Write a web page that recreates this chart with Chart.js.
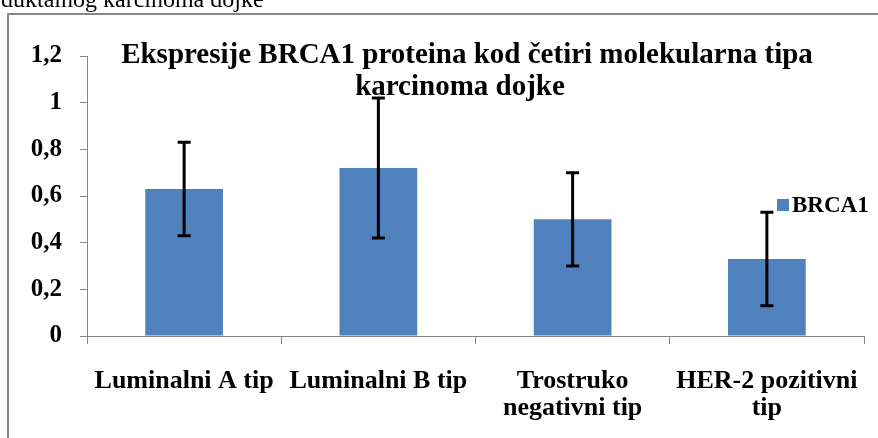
<!DOCTYPE html>
<html>
<head>
<meta charset="utf-8">
<script src="https://cdn.jsdelivr.net/npm/chart.js@4"></script>
<style>
  html, body { margin: 0; padding: 0; background: #fff; }
  #wrap { position: relative; width: 878px; height: 438px; overflow: hidden; }
  canvas { display: block; }
</style>
</head>
<body>
<div id="wrap"><canvas id="c" width="878" height="438"></canvas></div>
<script>
// ---- data ----
const categories = [["Luminalni A tip"], ["Luminalni B tip"], ["Trostruko", "negativni tip"], ["HER-2 pozitivni", "tip"]];
const seriesName = "BRCA1";
const values = [0.63, 0.72, 0.50, 0.33];
const errors = [0.20, 0.30, 0.20, 0.20];
const yTickLabels = ["0", "0,2", "0,4", "0,6", "0,8", "1", "1,2"];
const titleLines = ["Ekspresije BRCA1 proteina kod četiri molekularna tipa", "karcinoma dojke"];
const pageText = "duktalnog karcinoma dojke";

const serif = "'Liberation Serif', 'Times New Roman', serif";
const barColor = "#4F81BD";
const axisColor = "#868686";

const decorPlugin = {
  id: "decor",
  beforeDraw(chart) {
    const ctx = chart.ctx;
    ctx.save();
    ctx.fillStyle = "#fff";
    ctx.fillRect(0, 0, chart.width, chart.height);
    // page text cut off at top
    ctx.fillStyle = "#000";
    ctx.font = "24px " + serif;
    ctx.textAlign = "left";
    ctx.textBaseline = "alphabetic";
    ctx.fillText(pageText, 1, 7);
    // chart frame
    ctx.strokeStyle = axisColor;
    ctx.lineWidth = 2;
    ctx.strokeRect(8, 14, 900, 500);
    ctx.restore();
  },
  afterDatasetsDraw(chart) {
    const ctx = chart.ctx;
    const y = chart.scales.y;
    const meta = chart.getDatasetMeta(0);
    ctx.save();
    ctx.strokeStyle = "#000";
    ctx.lineWidth = 3;
    meta.data.forEach((bar, i) => {
      const x = bar.x;
      const top = y.getPixelForValue(values[i] + errors[i]);
      const bot = y.getPixelForValue(values[i] - errors[i]);
      ctx.beginPath();
      ctx.moveTo(x, top); ctx.lineTo(x, bot);
      ctx.moveTo(x - 6.5, top); ctx.lineTo(x + 6.5, top);
      ctx.moveTo(x - 6.5, bot); ctx.lineTo(x + 6.5, bot);
      ctx.stroke();
    });
    ctx.restore();
  },
  afterDraw(chart) {
    const ctx = chart.ctx;
    ctx.save();
    // title
    ctx.fillStyle = "#000";
    ctx.font = "bold 29px " + serif;
    ctx.textAlign = "center";
    ctx.textBaseline = "alphabetic";
    ctx.fillText(titleLines[0], 467, 63);
    ctx.fillText(titleLines[1], 460, 95);
    // legend
    ctx.fillStyle = barColor;
    ctx.fillRect(777, 199, 12, 12);
    ctx.fillStyle = "#000";
    ctx.font = "bold 23px " + serif;
    ctx.textAlign = "left";
    ctx.textBaseline = "middle";
    ctx.fillText(seriesName, 792, 206);
    ctx.restore();
  }
};

new Chart(document.getElementById("c"), {
  type: "bar",
  data: {
    labels: categories,
    datasets: [{
      label: seriesName,
      data: values,
      backgroundColor: barColor,
      borderWidth: 0,
      barPercentage: 0.4,
      categoryPercentage: 1.0
    }]
  },
  options: {
    responsive: false,
    animation: false,
    devicePixelRatio: 1,
    layout: { padding: { left: 8, top: 56, right: 14, bottom: 0 } },
    plugins: {
      legend: { display: false },
      title: { display: false },
      tooltip: { enabled: false }
    },
    scales: {
      x: {
        afterFit(scale) { scale.height = 102; scale.paddingLeft = 0; scale.paddingRight = 0; },
        grid: { display: true, drawOnChartArea: false, drawTicks: true, tickLength: 8, color: axisColor, offset: true },
        border: { display: true, color: axisColor, width: 1 },
        ticks: {
          color: "#000",
          font: { family: serif, size: 26, weight: "bold", lineHeight: 1.04 },
          padding: 24,
          maxRotation: 0,
          autoSkip: false
        }
      },
      y: {
        min: 0,
        max: 1.2,
        afterFit(scale) { scale.width = 79; },
        grid: { display: true, drawOnChartArea: false, drawTicks: true, tickLength: 7, color: axisColor },
        border: { display: true, color: axisColor, width: 1 },
        ticks: {
          stepSize: 0.2,
          color: "#000",
          font: { family: serif, size: 25, weight: "bold" },
          padding: 18,
          callback: (v, i) => yTickLabels[i]
        }
      }
    }
  },
  plugins: [decorPlugin]
});
</script>
</body>
</html>
